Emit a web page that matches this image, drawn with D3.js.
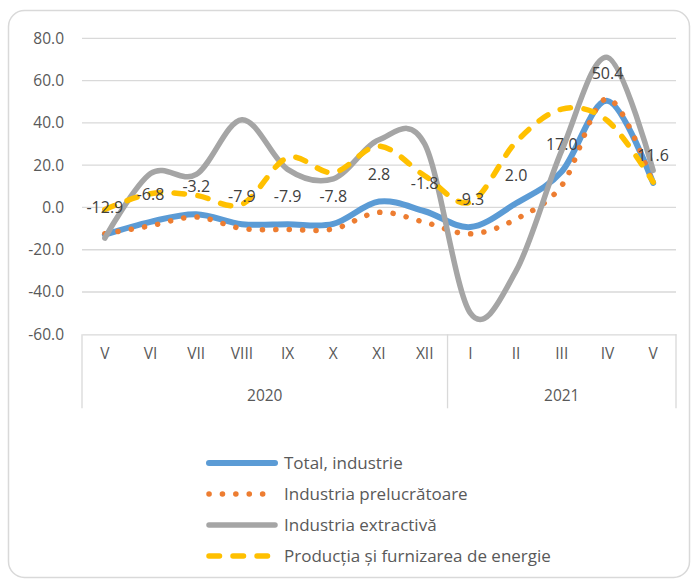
<!DOCTYPE html>
<html>
<head>
<meta charset="utf-8">
<script src="https://cdn.jsdelivr.net/npm/d3@7"></script>
<style>
  body { margin: 0; background: #fff; }
  text { font-family: "Open Sans", Lato, sans-serif; }
</style>
</head>
<body>
<script>
// months on the axis, grouped by year
const months = ['V', 'VI', 'VII', 'VIII', 'IX', 'X', 'XI', 'XII', 'I', 'II', 'III', 'IV', 'V'];
const years = ['2020', '2020', '2020', '2020', '2020', '2020', '2020', '2020', '2021', '2021', '2021', '2021', '2021'];
const yTicks = [-60, -40, -20, 0, 20, 40, 60, 80];

// series values (%)
const total = [-12.9, -6.8, -3.2, -7.9, -7.9, -7.8, 2.8, -1.8, -9.3, 2.0, 17.0, 50.4, 11.6];
const prelucratoare = [-12.4, -8.7, -4.5, -10.0, -10.4, -10.2, -2.3, -7.0, -12.5, -5.5, 10.4, 51.5, 11.0];
const extractiva = [-14.5, 16.0, 15.6, 41.5, 18.0, 13.5, 32.0, 30.0, -50.0, -30.0, 27.0, 71.0, 17.5];
const energie = [-1.0, 6.5, 5.7, 1.5, 23.5, 16.5, 29.0, 15.0, 2.5, 31.0, 46.5, 41.0, 12.0];

const seriesNames = ['Total, industrie', 'Industria prelucrătoare', 'Industria extractivă', 'Producția și furnizarea de energie'];

const w = 694;
const h = 581;
const font = '"Open Sans", sans-serif';
const fmt = d3.formatLocale({ decimal: '.', thousands: ',', grouping: [3], currency: ['', ''], minus: '-' }).format('.1f');

const svg = d3.select('body')
              .append('svg')
              .attr('width', w)
              .attr('height', h)

// outer frame
svg.append('rect')
   .attr('x', 8.5)
   .attr('y', 10.5)
   .attr('width', 681)
   .attr('height', 567)
   .attr('rx', 16)
   .attr('fill', 'none')
   .attr('stroke', '#d9d9d9')
   .attr('stroke-width', 1.5)

const keys = months.map((m, i) => years[i] + '-' + m + '-' + i);

const x = d3.scaleBand()
            .domain(keys)
            .range([82, 676])

const y = d3.scaleLinear()
            .domain([-60, 80])
            .range([334.3, 38.3])

// gridlines
svg.append('g')
   .selectAll('line')
   .data(yTicks.filter(d => d > -60))
   .enter()
   .append('line')
   .attr('x1', 82)
   .attr('x2', 676)
   .attr('y1', d => y(d))
   .attr('y2', d => y(d))
   .attr('stroke', '#d9d9d9')
   .attr('stroke-width', 1.3)

// y axis labels
const yAxis = d3.axisLeft(y)
                .tickValues(yTicks)
                .tickFormat(fmt)
                .tickSize(0)
                .tickPadding(18)
svg.append('g')
   .attr('transform', 'translate(82,0)')
   .call(yAxis)
   .call(g => g.select('.domain').remove())
   .call(g => g.selectAll('text')
               .attr('fill', '#595959')
               .style('font-size', '15.5px')
               .style('font-family', font))

// category axis box
const xAxis = d3.axisBottom(x)
                .tickFormat((d, i) => months[i])
                .tickSize(0)
                .tickPadding(14)
svg.append('g')
   .attr('transform', 'translate(0,' + y(-60) + ')')
   .call(xAxis)
   .call(g => g.select('.domain').attr('stroke', '#d9d9d9').attr('stroke-width', 1.3))
   .call(g => g.selectAll('text')
               .attr('fill', '#595959')
               .style('font-size', '15.5px')
               .style('font-family', font))

const yearGroups = d3.groups(keys, k => k.split('-')[0]);
const bottom = y(-60);
const sepX = [x(keys[0])];
yearGroups.forEach(g => sepX.push(x(g[1][g[1].length - 1]) + x.bandwidth()));

svg.append('g')
   .selectAll('line')
   .data(sepX)
   .enter()
   .append('line')
   .attr('x1', d => d)
   .attr('x2', d => d)
   .attr('y1', bottom)
   .attr('y2', bottom + 74)
   .attr('stroke', '#d9d9d9')
   .attr('stroke-width', 1.3)

svg.append('g')
   .selectAll('text')
   .data(yearGroups)
   .enter()
   .append('text')
   .attr('x', g => (x(g[1][0]) + x(g[1][g[1].length - 1]) + x.bandwidth()) / 2)
   .attr('y', bottom + 67)
   .attr('text-anchor', 'middle')
   .attr('fill', '#595959')
   .style('font-size', '15.5px')
   .text(g => g[0])

// lines
const styles = [
  { data: total, color: '#5b9bd5', width: 6, dash: null },
  { data: prelucratoare, color: '#ed7d31', width: 5.5, dash: '0.1 13.3' },
  { data: extractiva, color: '#a5a5a5', width: 5.5, dash: null },
  { data: energie, color: '#ffc000', width: 5.5, dash: '10.5 13.5' }
];

const line = d3.line()
               .x((d, i) => x(keys[i]) + x.bandwidth() / 2)
               .y(d => y(d))
               .curve(d3.curveCardinal.tension(0))

svg.append('g')
   .selectAll('path')
   .data(styles)
   .enter()
   .append('path')
   .attr('d', s => line(s.data))
   .attr('fill', 'none')
   .attr('stroke', s => s.color)
   .attr('stroke-width', s => s.width)
   .attr('stroke-linecap', 'round')
   .attr('stroke-linejoin', 'round')
   .attr('stroke-dasharray', s => s.dash)

// data labels for total
svg.append('g')
   .selectAll('text')
   .data(total)
   .enter()
   .append('text')
   .attr('x', (d, i) => x(keys[i]) + x.bandwidth() / 2)
   .attr('y', d => y(d) - 22)
   .attr('text-anchor', 'middle')
   .attr('fill', '#404040')
   .style('font-size', '16px')
   .text(d => fmt(d))

// legend
const legend = svg.append('g')
                  .attr('id', 'legend')
const rows = legend.selectAll('g')
                   .data(styles)
                   .enter()
                   .append('g')
                   .attr('transform', (s, i) => 'translate(0,' + (463 + i * 31) + ')')
rows.append('line')
    .attr('x1', 209)
    .attr('x2', 275)
    .attr('stroke', s => s.color)
    .attr('stroke-width', s => s.width)
    .attr('stroke-linecap', 'round')
    .attr('stroke-dasharray', s => s.dash)
rows.append('text')
    .attr('x', 284)
    .attr('y', 6)
    .attr('fill', '#595959')
    .style('font-size', '17px')
    .text((s, i) => seriesNames[i])
</script>
</body>
</html>
